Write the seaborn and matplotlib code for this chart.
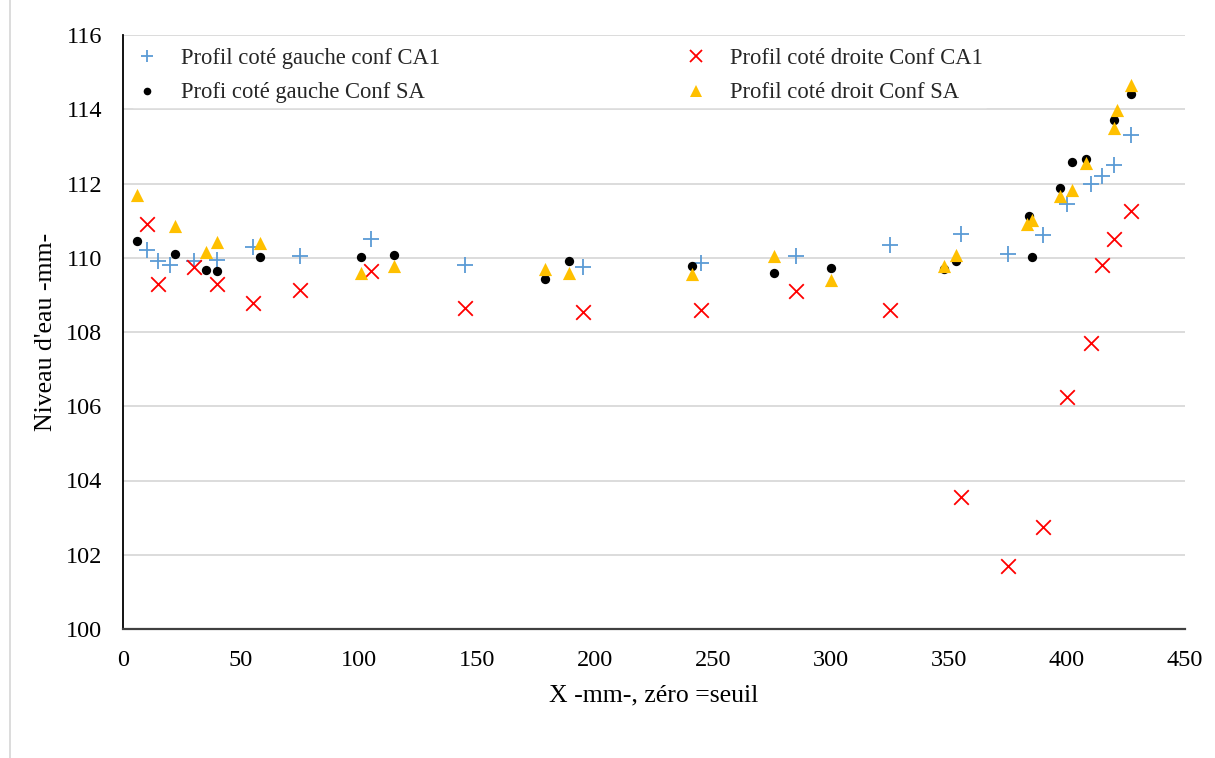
import matplotlib
matplotlib.use("Agg")
import matplotlib.pyplot as plt
import seaborn as sns
import pandas as pd
from matplotlib.lines import Line2D

# ---- data ----
x_gauche_ca1 = [10, 15, 20, 30, 40, 55, 75, 105, 145, 195, 245, 285, 325, 355, 375, 390, 400, 410, 415, 420, 427]
y_gauche_ca1 = [110.2, 109.9, 109.8, 109.9, 109.95, 110.3, 110.05, 110.5, 109.8, 109.75, 109.85, 110.05, 110.35,
                110.65, 110.1, 110.6, 111.45, 112.0, 112.2, 112.5, 113.3]

x_droite_ca1 = [10, 15, 30, 40, 55, 75, 105, 145, 195, 245, 285, 325, 355, 375, 390, 400, 410, 415, 420, 427]
y_droite_ca1 = [110.9, 109.3, 109.75, 109.3, 108.78, 109.13, 109.65, 108.65, 108.55, 108.6, 109.1, 108.6,
                103.55, 101.7, 102.75, 106.25, 107.7, 109.8, 110.5, 111.25]

x_gauche_sa = [6, 22, 35, 40, 58, 101, 115, 179, 189, 241, 276, 300, 348, 353, 384, 385, 397, 402, 408, 420, 427]
y_gauche_sa = [110.45, 110.1, 109.67, 109.65, 110.02, 110.02, 110.07, 109.42, 109.9, 109.78, 109.58, 109.72,
               109.7, 109.9, 111.12, 110.02, 111.88, 112.58, 112.66, 113.72, 114.42]

x_droit_sa = [6, 22, 35, 40, 58, 101, 115, 179, 189, 241, 276, 300, 348, 353, 383, 385, 397, 402, 408, 420, 421, 427]
y_droit_sa = [111.7, 110.85, 110.15, 110.43, 110.4, 109.6, 109.77, 109.7, 109.58, 109.55, 110.05, 109.4,
              109.78, 110.07, 110.92, 111.02, 111.66, 111.82, 112.55, 113.5, 113.98, 114.65]

labels = ["Profil coté gauche conf CA1", "Profi coté gauche Conf SA",
          "Profil coté droite Conf CA1", "Profil coté droit Conf SA"]
x_ticks = [0, 50, 100, 150, 200, 250, 300, 350, 400, 450]
y_ticks = [100, 102, 104, 106, 108, 110, 112, 114, 116]

sns.set_style("white")
plt.rcParams['font.family'] = ['Liberation Serif', 'DejaVu Serif']

fig = plt.figure(figsize=(12.15, 7.58), dpi=100)
ax = fig.add_axes([123 / 1215, 1 - 629 / 758, (1185 - 123) / 1215, (629 - 35) / 758])

df1 = pd.DataFrame({"x": x_gauche_ca1, "y": y_gauche_ca1})
df2 = pd.DataFrame({"x": x_gauche_sa, "y": y_gauche_sa})
df3 = pd.DataFrame({"x": x_droite_ca1, "y": y_droite_ca1})
df4 = pd.DataFrame({"x": x_droit_sa, "y": y_droit_sa})

sns.scatterplot(data=df1, x="x", y="y", ax=ax, marker="+", color="#5B9BD5", s=120, linewidth=1.3, zorder=3)
sns.scatterplot(data=df2, x="x", y="y", ax=ax, marker="o", color="black", s=45, linewidth=0, zorder=3)
sns.scatterplot(data=df3, x="x", y="y", ax=ax, marker="x", color="#FF0000", s=110, linewidth=1.3, zorder=3)
sns.scatterplot(data=df4, x="x", y="y", ax=ax, marker="^", color="#FFC000", s=90, linewidth=0, zorder=4)

ax.set_xlim(0, 450)
ax.set_ylim(100, 116)
ax.set_xticks(x_ticks)
ax.set_yticks(y_ticks)
ax.set_xticklabels([str(v) for v in x_ticks])
ax.set_yticklabels([str(v) for v in y_ticks])
ax.tick_params(axis="both", length=0, labelsize=17.5, colors="black")
ax.tick_params(axis="x", pad=15)
ax.tick_params(axis="y", pad=15)
ax.yaxis.grid(True, color="#D9D9D9", linewidth=1.3)
ax.xaxis.grid(False)
ax.set_axisbelow(True)
for s in ["top", "right"]:
    ax.spines[s].set_visible(False)
ax.spines["left"].set_color("black")
ax.spines["left"].set_linewidth(1.3)
ax.spines["bottom"].set_color("#404040")
ax.spines["bottom"].set_linewidth(1.6)

ax.set_xlabel("X -mm-, zéro =seuil", fontsize=18.5, color="black", labelpad=10)
ax.set_ylabel("Niveau d'eau -mm-", fontsize=18.5, color="black", labelpad=6)

handles = [
    Line2D([], [], linestyle="none", marker="+", color="#5B9BD5", markersize=9, markeredgewidth=1.3),
    Line2D([], [], linestyle="none", marker="o", color="black", markersize=5.5, markeredgewidth=0),
    Line2D([], [], linestyle="none", marker="x", color="#FF0000", markersize=9, markeredgewidth=1.3),
    Line2D([], [], linestyle="none", marker="^", color="#FFC000", markersize=8, markeredgewidth=0),
]
leg = ax.legend(handles, labels, ncol=2, loc="upper left", bbox_to_anchor=(0.0, 1.0),
                fontsize=16.3, frameon=True, facecolor="white", edgecolor="white", framealpha=1,
                handlelength=1.0, handletextpad=1.0, columnspacing=10.8, labelspacing=0.6,
                borderpad=0.15, borderaxespad=0.42, fancybox=False)
leg.set_zorder(5)

fig.add_artist(Line2D([10 / 1215, 10 / 1215], [0, 1], transform=fig.transFigure, color="#D9D9D9", linewidth=1.3))

fig.savefig("out.png", dpi=100)
